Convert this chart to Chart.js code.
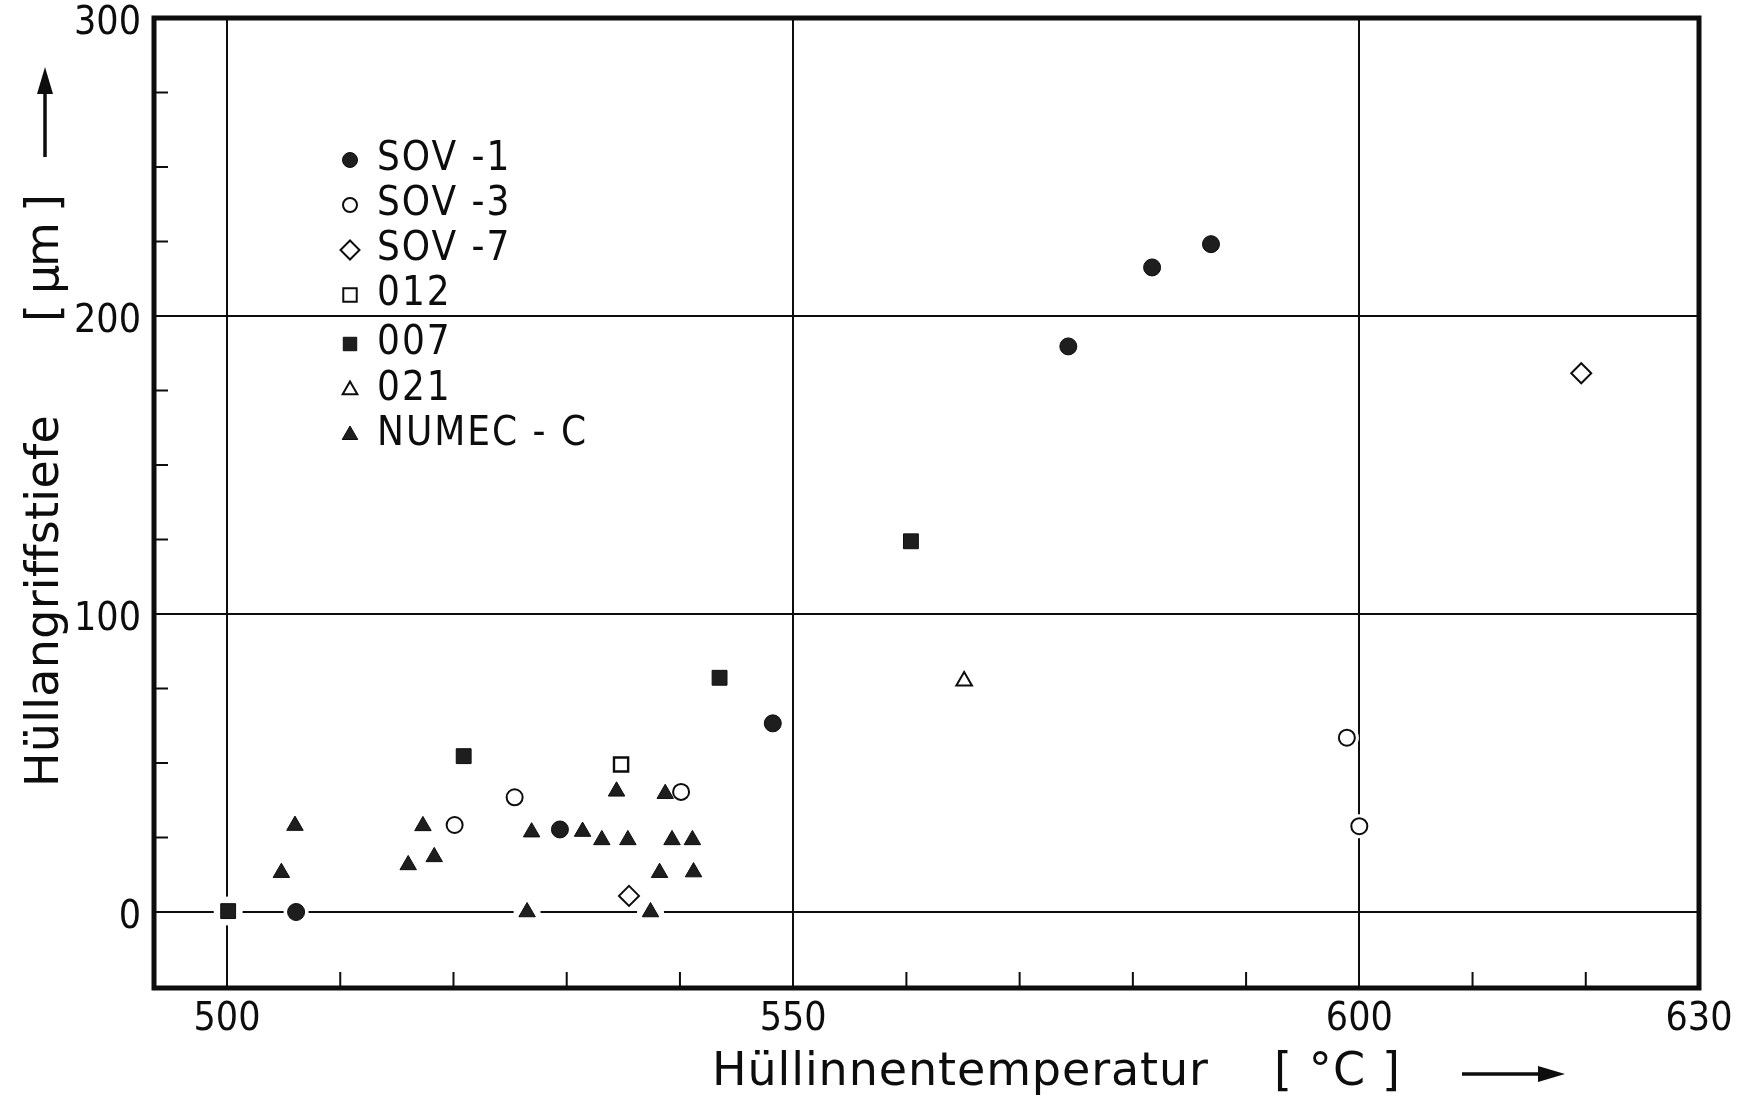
<!DOCTYPE html>
<html>
<head>
<meta charset="utf-8">
<title>Hüllangriffstiefe</title>
<script src="https://cdn.jsdelivr.net/npm/chart.js@4.4.1/dist/chart.umd.min.js"></script>
<style>
  html, body { margin: 0; padding: 0; background: #fff; }
  canvas { display: block; }
</style>
</head>
<body>
<canvas id="myChart" width="1739" height="1101"></canvas>
<script>
// values: x = Hüllinnentemperatur [°C], y = Hüllangriffstiefe [µm]
const sov1X = [506.1, 529.4, 548.2, 574.3, 581.7, 586.9];
const sov1Y = [0, 27.7, 63.3, 189.8, 216.3, 224.1];

const sov3X = [520.1, 525.4, 540.1, 598.9, 600.0];
const sov3Y = [29.2, 38.5, 40.3, 58.5, 28.8];

const sov7X = [535.5, 619.6];
const sov7Y = [5.4, 180.8];

const s012X = [534.8];
const s012Y = [49.5];

const s007X = [500.1, 520.9, 543.5, 560.4];
const s007Y = [0.3, 52.3, 78.6, 124.4];

const s021X = [565.1];
const s021Y = [77.5];

const numecX = [504.8, 506.0, 516.0, 517.3, 518.3, 526.5, 526.9, 531.4, 533.1, 534.4, 535.4, 537.4, 538.2, 538.7, 539.3, 541.1, 541.2];
const numecY = [13.2, 29.0, 15.8, 28.9, 18.5, 0, 26.8, 27.0, 24.2, 40.5, 24.2, 0, 13.2, 39.7, 24.2, 24.2, 13.4];

const seriesLabels = ['SOV -1', 'SOV -3', 'SOV -7', '012', '007', '021', 'NUMEC - C'];

const xTickVals = [500, 550, 600, 630];
const yTickVals = [0, 100, 200, 300];
const xGridVals = [500, 550, 600];
const yGridVals = [0, 100, 200];
const xMinorVals = [510, 520, 530, 540, 560, 570, 580, 590, 610, 620];
const yMinorVals = [25, 50, 75, 125, 150, 175, 225, 250, 275];

const ink = '#0d0d0d';
const condensed = '"DejaVu Sans Condensed", "DejaVu Sans", sans-serif';
const titleFamily = '"DejaVu Sans", sans-serif';

function pts(xs, ys) {
    return xs.map((x, i) => ({ x: x, y: ys[i] }));
}

function series(label, xs, ys, style, radius, filled, lw) {
    return {
        label: label,
        data: pts(xs, ys),
        pointStyle: style,
        pointRadius: radius,
        pointHoverRadius: radius,
        pointBackgroundColor: filled ? '#1e1e1e' : '#fff',
        pointBorderColor: ink,
        pointBorderWidth: lw,
        showLine: false
    };
}

const datasets = [
    series(seriesLabels[0], sov1X, sov1Y, 'circle', 8.5, true, 1),
    series(seriesLabels[1], sov3X, sov3Y, 'circle', 8, false, 2),
    series(seriesLabels[2], sov7X, sov7Y, 'rectRot', 10, false, 2),
    series(seriesLabels[3], s012X, s012Y, 'rect', 10, false, 2.4),
    series(seriesLabels[4], s007X, s007Y, 'rect', 10.5, true, 1),
    series(seriesLabels[5], s021X, s021Y, 'triangle', 9, false, 2),
    series(seriesLabels[6], numecX, numecY, 'triangle', 9.5, true, 1)
];

function marker(c, style, x, y, r) {
    c.beginPath();
    if (style === 'circle') {
        c.arc(x, y, r, 0, Math.PI * 2);
    } else if (style === 'rect') {
        const s = r * Math.SQRT1_2;
        c.rect(x - s, y - s, 2 * s, 2 * s);
    } else if (style === 'rectRot') {
        c.moveTo(x, y - r); c.lineTo(x + r, y); c.lineTo(x, y + r); c.lineTo(x - r, y);
        c.closePath();
    } else {
        c.moveTo(x, y - r); c.lineTo(x + r * 0.866, y + r * 0.5); c.lineTo(x - r * 0.866, y + r * 0.5);
        c.closePath();
    }
}

// text squeezed or stretched to the width it has in the scan
function fitText(c, text, x, y, width) {
    c.letterSpacing = '0px';
    const w = c.measureText(text).width;
    const ls = (width - w) / Math.max(1, text.length - 1);
    c.letterSpacing = ls + 'px';
    c.fillText(text, x, y);
    c.letterSpacing = '0px';
}

function arrow(c, x1, y1, x2, y2) {
    const a = Math.atan2(y2 - y1, x2 - x1);
    const hl = 27, hw = 8;
    c.save();
    c.strokeStyle = ink;
    c.fillStyle = ink;
    c.lineWidth = 3.5;
    c.beginPath();
    c.moveTo(x1, y1);
    c.lineTo(x2 - Math.cos(a) * hl * 0.8, y2 - Math.sin(a) * hl * 0.8);
    c.stroke();
    c.beginPath();
    c.moveTo(x2, y2);
    c.lineTo(x2 - Math.cos(a) * hl - Math.sin(a) * hw, y2 - Math.sin(a) * hl + Math.cos(a) * hw);
    c.lineTo(x2 - Math.cos(a) * hl + Math.sin(a) * hw, y2 - Math.sin(a) * hl - Math.cos(a) * hw);
    c.closePath();
    c.fill();
    c.restore();
}

const paper = {
    id: 'paper',
    beforeDraw(chart) {
        const c = chart.ctx;
        c.save();
        c.fillStyle = '#fff';
        c.fillRect(0, 0, chart.width, chart.height);
        c.restore();
    }
};

// white gap in the grid lines round every mark, as in the drawing
const halo = {
    id: 'halo',
    beforeDatasetsDraw(chart) {
        const c = chart.ctx;
        c.save();
        c.fillStyle = '#fff';
        chart.data.datasets.forEach((ds, i) => {
            chart.getDatasetMeta(i).data.forEach(p => {
                c.beginPath();
                c.arc(p.x, p.y, ds.pointRadius + 4, 0, Math.PI * 2);
                c.fill();
            });
        });
        c.restore();
    }
};

const frame = {
    id: 'frame',
    afterDatasetsDraw(chart) {
        const c = chart.ctx;
        const a = chart.chartArea;
        const xs = chart.scales.x, ys = chart.scales.y;
        c.save();
        c.strokeStyle = ink;
        c.lineWidth = 2;
        c.beginPath();
        xMinorVals.forEach(v => {
            const px = xs.getPixelForValue(v);
            c.moveTo(px, a.bottom);
            c.lineTo(px, a.bottom - 16);
        });
        yMinorVals.forEach(v => {
            const py = ys.getPixelForValue(v);
            c.moveTo(a.left, py);
            c.lineTo(a.left + 14, py);
        });
        c.stroke();
        c.lineWidth = 5;
        c.strokeRect(a.left, a.top, a.right - a.left, a.bottom - a.top);
        c.restore();
    }
};

const legendBox = {
    id: 'legendBox',
    afterDraw(chart) {
        const c = chart.ctx;
        c.save();
        c.font = '40px ' + condensed;
        c.textBaseline = 'middle';
        c.fillStyle = ink;
        const rowY = [160, 205, 250, 295, 344, 390, 435];
        const sizes = [7.5, 7, 9.5, 9.5, 9.5, 8.5, 9];
        chart.data.datasets.forEach((ds, i) => {
            const y = rowY[i];
            marker(c, ds.pointStyle, 350, y, sizes[i]);
            c.fillStyle = ds.pointBackgroundColor;
            c.fill();
            c.strokeStyle = ink;
            c.lineWidth = ds.pointBackgroundColor === '#fff' ? 2 : 1;
            c.stroke();
            c.fillStyle = ink;
            c.letterSpacing = '2px';
            c.fillText(ds.label, 377, y);
        });
        c.restore();
    }
};

const titles = {
    id: 'titles',
    afterDraw(chart) {
        const c = chart.ctx;
        c.save();
        c.fillStyle = ink;
        c.font = '46px ' + titleFamily;
        c.textBaseline = 'alphabetic';
        c.textAlign = 'left';
        fitText(c, 'Hüllinnentemperatur', 712, 1085, 496);
        fitText(c, '[ °C ]', 1274, 1085, 126);
        arrow(c, 1462, 1074, 1565, 1074);

        c.save();
        c.translate(58, 787);
        c.rotate(-Math.PI / 2);
        fitText(c, 'Hüllangriffstiefe', 0, 0, 371);
        fitText(c, '[ μm ]', 465, 0, 128);
        c.restore();
        arrow(c, 45, 157, 45, 67);
        c.restore();
    }
};

const ctx = document.getElementById('myChart').getContext('2d');
const myChart = new Chart(ctx, {
    type: 'scatter',
    data: { datasets: datasets },
    options: {
        responsive: false,
        animation: false,
        events: [],
        layout: { padding: { top: 18, right: 40, bottom: 0, left: 0 } },
        plugins: {
            legend: { display: false },
            tooltip: { enabled: false }
        },
        scales: {
            x: {
                type: 'linear',
                min: 493.55,
                max: 630,
                afterBuildTicks: s => { s.ticks = xTickVals.map(v => ({ value: v })); },
                afterFit: s => { s.height = 113; s.paddingLeft = 0; s.paddingRight = 0; },
                grid: {
                    color: c => (c.tick && xGridVals.includes(c.tick.value)) ? ink : 'rgba(0,0,0,0)',
                    lineWidth: 2,
                    drawTicks: false
                },
                border: { display: false },
                ticks: {
                    font: { family: condensed, size: 39 },
                    color: ink,
                    padding: 8,
                    maxRotation: 0,
                    autoSkip: false,
                    callback: v => String(v)
                }
            },
            y: {
                type: 'linear',
                min: -25.5,
                max: 300,
                afterBuildTicks: s => { s.ticks = yTickVals.map(v => ({ value: v })); },
                afterFit: s => { s.width = 154; s.paddingTop = 0; s.paddingBottom = 0; },
                grid: {
                    color: c => (c.tick && yGridVals.includes(c.tick.value)) ? ink : 'rgba(0,0,0,0)',
                    lineWidth: 2,
                    drawTicks: false
                },
                border: { display: false },
                ticks: {
                    font: { family: condensed, size: 39 },
                    color: ink,
                    padding: 13,
                    labelOffset: 6,
                    autoSkip: false,
                    callback: v => String(v)
                }
            }
        }
    },
    plugins: [paper, halo, frame, legendBox, titles]
});
</script>
</body>
</html>
